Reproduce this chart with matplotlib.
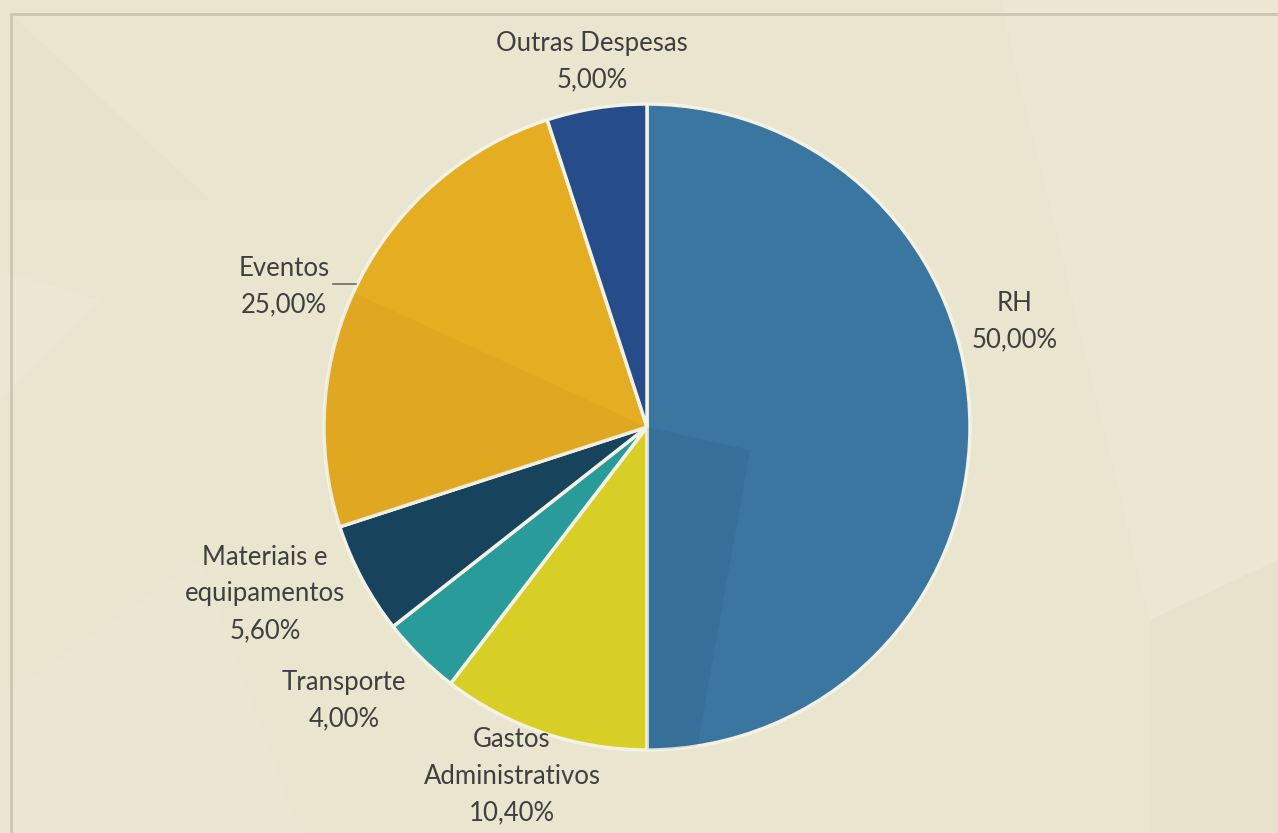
import matplotlib
matplotlib.use("Agg")
import matplotlib.pyplot as plt
from matplotlib.patches import Polygon, Rectangle

categories = ["RH", "Gastos\nAdministrativos", "Transporte", "Materiais e\nequipamentos", "Eventos", "Outras Despesas"]
values = [50.0, 10.4, 4.0, 5.6, 25.0, 5.0]
colors = ["#3b76a0", "#d7cf25", "#2a9b9b", "#17435c", "#e5ad22", "#264c8a"]

W, H = 1278, 833
fig = plt.figure(figsize=(W / 100, H / 100), dpi=100)
fig.patch.set_facecolor("#e9e5cf")
ax = fig.add_axes([0, 0, 1, 1])
ax.set_facecolor("#e9e5cf")

def P(x, y):
    return (x, H - y)

# subtle background facets
facets = [
    ([P(12, 15), P(210, 200), P(12, 200)], "#e6e2cb"),
    ([P(0, 270), P(100, 300), P(0, 400)], "#ebe7d2"),
    ([P(200, 560), P(0, 700), P(0, 833), P(300, 833)], "#eae6d1"),
    ([P(1000, 0), P(1278, 0), P(1278, 600), P(1150, 620)], "#ebe7d3"),
    ([P(1150, 620), P(1278, 560), P(1278, 833), P(1150, 833)], "#e6e2cb"),
]
for pts, c in facets:
    ax.add_patch(Polygon(pts, closed=True, facecolor=c, edgecolor="none", zorder=0))

# border frame
ax.add_patch(Rectangle(P(11, 900), 1400, 900 - 14, facecolor="none",
                       edgecolor="#cbc8b2", lw=2.0, zorder=1))

cx, cy, r = 647, 427, 323
wedges, _ = ax.pie(values, colors=colors, startangle=90, counterclock=False,
                   center=P(cx, cy), radius=r, frame=True,
                   wedgeprops=dict(edgecolor="#f4f2e4", linewidth=2.5))
for w in wedges:
    w.set_zorder(2)

# translucent facet overlays on the pie, each clipped to its wedge
for idx, pts, c, a in [
    (4, [P(300, 268), P(647, 427), P(300, 560)], "#7a5a00", 0.05),
    (0, [P(647, 427), P(750, 450), P(695, 760), P(640, 760)], "#0b3a5a", 0.10),
]:
    poly = Polygon(pts, closed=True, facecolor=c, alpha=a, edgecolor="none", zorder=3)
    ax.add_patch(poly)
    poly.set_clip_path(wedges[idx])

ax.set_xlim(0, W)
ax.set_ylim(0, H)
ax.set_aspect("equal")
ax.axis("off")

labels = [
    "RH\n50,00%",
    "Gastos\nAdministrativos\n10,40%",
    "Transporte\n4,00%",
    "Materiais e\nequipamentos\n5,60%",
    "Eventos\n25,00%",
    "Outras Despesas\n5,00%",
]
label_pos = [(1015, 322), (512, 776), (344, 701), (265, 594), (284, 287), (592, 62)]
for t, (x, y) in zip(labels, label_pos):
    ax.text(*P(x, y), t, ha="center", va="center", fontsize=18.5, family="Lato",
            color="#3f3f3f", linespacing=1.58, zorder=5)

# leader line for Eventos
ax.plot([P(333, 284)[0], P(356, 284)[0]], [P(333, 284)[1], P(356, 284)[1]],
        color="#6a6a6a", lw=1.2, zorder=5)

fig.savefig("out.png", dpi=100, facecolor=fig.get_facecolor())
